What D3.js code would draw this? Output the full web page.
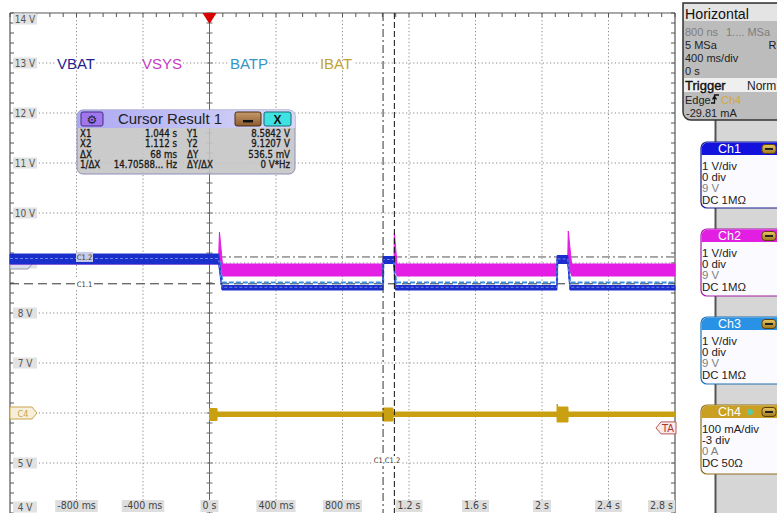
<!DOCTYPE html>
<html><head><meta charset="utf-8">
<script src="https://cdn.jsdelivr.net/npm/d3@7"></script>
<style>body{margin:0;background:#fff;overflow:hidden} svg{display:block}</style>
</head><body>
<svg id="c" width="777" height="513"></svg>
<script>
// ---------- data ----------
const traceNames = ["VBAT", "VSYS", "BATP", "IBAT"];
const timeTicks = [-0.8, -0.4, 0, 0.4, 0.8, 1.2, 1.6, 2.0, 2.4, 2.8];
const timeLabels = ["-800 ms", "-400 ms", "0 s", "400 ms", "800 ms", "1.2 s", "1.6 s", "2 s", "2.4 s", "2.8 s"];
const voltTicks = [14, 13, 12, 11, 10, 9, 8, 7, 5, 4];
const voltLabels = ["14 V", "13 V", "12 V", "11 V", "10 V", "9 V", "8 V", "7 V", "5 V", "4 V"];
// envelopes: [time s, low V, high V]
const vbatEnv = [[-1.2, 8.98, 9.18], [0.055, 8.98, 9.18], [0.075, 8.46, 8.55], [1.044, 8.46, 8.55],
  [1.045, 8.99, 9.13], [1.108, 8.99, 9.13], [1.118, 8.46, 8.55], [2.09, 8.46, 8.55],
  [2.091, 8.99, 9.15], [2.155, 8.99, 9.15], [2.168, 8.46, 8.55], [2.8, 8.46, 8.55]];
const vsysEnv = [[-1.2, 8.98, 9.1], [0.055, 8.98, 9.12], [0.06, 9.0, 9.62], [0.078, 8.74, 8.98],
  [1.044, 8.74, 8.98], [1.045, 9.0, 9.1], [1.11, 9.0, 9.1], [1.112, 9.0, 9.6], [1.128, 8.74, 8.98],
  [2.09, 8.74, 8.98], [2.091, 9.0, 9.1], [2.155, 9.0, 9.1], [2.158, 9.0, 9.64], [2.178, 8.74, 8.98], [2.8, 8.74, 8.98]];
// [time s, V]
const batpPts = [[-1.2, 9.05], [0.06, 9.05], [0.078, 8.61], [1.044, 8.61], [1.046, 9.06], [1.11, 9.06],
  [1.122, 8.61], [2.09, 8.61], [2.092, 9.06], [2.156, 9.06], [2.17, 8.61], [2.8, 8.61]];
// [time s, low mA, high mA]
const ibatEnv = [[0, -15, 9], [0.045, -15, 9], [0.046, -7, 2], [1.043, -7, 2], [1.044, -16, 10],
  [1.103, -16, 10], [1.104, -7, 2], [2.09, -7, 2], [2.091, -18, 18], [2.096, -18, 12], [2.156, -18, 12],
  [2.157, -7, 2], [2.8, -7, 2]];
const cursorX = [1.044, 1.112];
const cursorY = [8.5842, 9.1207];
const triggerLevel = -29.81; // mA
const cursorRows = [["X1", "1.044 s", "Y1", "8.5842 V"], ["X2", "1.112 s", "Y2", "9.1207 V"],
  ["ΔX", "68 ms", "ΔY", "536.5 mV"], ["1/ΔX", "14.70588... Hz", "ΔY/ΔX", "0 V*Hz"]];
const chNames = ["Ch1", "Ch2", "Ch3", "Ch4"];
const chLines = [["1 V/div", "0 div", "9 V", "DC 1MΩ"], ["1 V/div", "0 div", "9 V", "DC 1MΩ"],
  ["1 V/div", "0 div", "9 V", "DC 1MΩ"], ["100 mA/div", "-3 div", "0 A", "DC 50Ω"]];
const horizLines = [["800 ns", "1.... MSa"], ["5 MSa", "R"], ["400 ms/div", ""], ["0 s", ""]];

// ---------- layout ----------
const svg = d3.select("#c");
const X0 = 10, X1 = 675, Y0 = 13, Y1 = 513;
const x = d3.scaleLinear([-1.2, 2.8], [X0, X1]);
const y = d3.scaleLinear([4, 14], [Y1, Y0]);
const yI = d3.scaleLinear([-200, 800], [Y1, Y0]);
const FONT = "'Liberation Sans', Arial, sans-serif";
const NARROW = "'Liberation Sans Narrow', 'DejaVu Sans Condensed', 'Liberation Sans', sans-serif";
const COND = "'DejaVu Sans Condensed', 'Liberation Sans', sans-serif";
const traceColors = {VBAT: "#1a2ecb", VSYS: "#e41ee4", BATP: "#3a8fe0", IBAT: "#c9a010"};
const labelColors = {VBAT: "#232390", VSYS: "#c33cc3", BATP: "#3495c6", IBAT: "#c4a232"};

svg.append("rect").attr("width", 777).attr("height", 513).attr("fill", "#fff");
const plot = svg.append("g");

// grid
const gridT = d3.range(-0.8, 2.81, 0.4).map(v => +v.toFixed(2)).filter(v => v !== 0 && v < 2.79);
plot.selectAll(".gv").data(gridT).join("line")
  .attr("x1", d => x(d)).attr("x2", d => x(d)).attr("y1", Y0).attr("y2", Y1)
  .attr("stroke", "#8a8a8a").attr("stroke-dasharray", "1.2,2.4").attr("stroke-width", 1);
const gridV = d3.range(5, 14);
plot.selectAll(".gh").data(gridV).join("line")
  .attr("x1", X0).attr("x2", X1).attr("y1", d => y(d)).attr("y2", d => y(d))
  .attr("stroke", "#8a8a8a").attr("stroke-dasharray", "1.2,2.4").attr("stroke-width", 1);

// frame
plot.append("line").attr("x1", X0).attr("x2", X1).attr("y1", Y0).attr("y2", Y0).attr("stroke", "#555").attr("stroke-width", 1.2);
plot.append("line").attr("x1", X0).attr("x2", X0).attr("y1", Y0).attr("y2", Y1).attr("stroke", "#555").attr("stroke-width", 1.2);
plot.append("line").attr("x1", X1).attr("x2", X1).attr("y1", Y0).attr("y2", Y1).attr("stroke", "#555").attr("stroke-width", 1.2);
plot.append("line").attr("x1", x(0)).attr("x2", x(0)).attr("y1", Y0).attr("y2", Y1).attr("stroke", "#666").attr("stroke-width", 1);
// minor ticks
const minorT = d3.range(-1.2, 2.8001, 0.08);
plot.selectAll(".mt").data(minorT).join("line")
  .attr("x1", d => x(d)).attr("x2", d => x(d)).attr("y1", Y0).attr("y2", Y0 + 4).attr("stroke", "#555");
const minorV = d3.range(4, 14.001, 0.2);
plot.selectAll(".ml").data(minorV).join("line")
  .attr("x1", X0).attr("x2", X0 + 4).attr("y1", d => y(d)).attr("y2", d => y(d)).attr("stroke", "#555");
plot.selectAll(".mr").data(minorV).join("line")
  .attr("x1", X1 - 4).attr("x2", X1).attr("y1", d => y(d)).attr("y2", d => y(d)).attr("stroke", "#555");
plot.selectAll(".mc").data(minorV).join("line")
  .attr("x1", x(0) - 3).attr("x2", x(0) + 3).attr("y1", d => y(d)).attr("y2", d => y(d)).attr("stroke", "#666");

// y labels
voltTicks.forEach((v, i) => {
  let cy = Math.min(Math.max(y(v), Y0 + 6), Y1 - 6);
  const g = plot.append("g");
  g.append("rect").attr("x", 13).attr("y", cy - 5.5).attr("width", 24).attr("height", 11).attr("fill", "#e2e2e2");
  g.append("text").attr("x", 25).attr("y", cy + 3.5).attr("text-anchor", "middle")
    .attr("font-family", NARROW).attr("font-size", 10).attr("fill", "#555").text(voltLabels[i]);
});
// x labels
timeTicks.forEach((t, i) => {
  const g = plot.append("g");
  const rect = g.append("rect");
  const txt = g.append("text").attr("y", 509).attr("font-family", NARROW).attr("font-size", 10.5).attr("fill", "#444").text(timeLabels[i]);
  const w = txt.node().getComputedTextLength();
  let cx = x(t);
  if (cx + w / 2 > X1 - 2) cx = X1 - 2 - w / 2;
  txt.attr("x", cx).attr("text-anchor", "middle");
  rect.attr("x", cx - w / 2 - 2).attr("y", 500).attr("width", w + 4).attr("height", 12).attr("fill", "#dedede");
});

// channel label marker C1/C2 at 9 V
plot.append("path").attr("d", `M${X0},${y(9) - 6}H${X0 + 18}l5,6l-5,6H${X0}Z`).attr("fill", "#dcdcec").attr("stroke", "#9a9ab0");

// cursor horizontal lines
plot.append("line").attr("x1", X0).attr("x2", X1).attr("y1", y(cursorY[1])).attr("y2", y(cursorY[1]))
  .attr("stroke", "#555").attr("stroke-dasharray", "8,3,2,3").attr("stroke-width", 1);
plot.append("line").attr("x1", X0).attr("x2", X1).attr("y1", y(cursorY[0])).attr("y2", y(cursorY[0]))
  .attr("stroke", "#333").attr("stroke-dasharray", "9,5").attr("stroke-width", 1);

// traces
const area = d3.area().x(d => x(d[0])).y0(d => y(d[1])).y1(d => y(d[2]));
const areaI = d3.area().x(d => x(d[0])).y0(d => yI(d[1])).y1(d => yI(d[2]));
plot.append("path").datum(vsysEnv).attr("d", area).attr("fill", traceColors.VSYS).attr("stroke", traceColors.VSYS).attr("stroke-width", 1);
plot.append("path").datum(batpPts).attr("d", d3.line().x(d => x(d[0])).y(d => y(d[1])))
  .attr("fill", "none").attr("stroke", traceColors.BATP).attr("stroke-width", 2.2).attr("stroke-dasharray", "5,2");
plot.append("path").datum(vbatEnv).attr("d", area).attr("fill", traceColors.VBAT).attr("stroke", traceColors.VBAT).attr("stroke-width", 1);
plot.append("path").datum(vbatEnv).attr("d", d3.line().x(d => x(d[0])).y(d => y((d[1] + d[2]) / 2 + 0.01)))
  .attr("fill", "none").attr("stroke", "#6f86e8").attr("stroke-width", 1).attr("stroke-dasharray", "3,2");
plot.append("path").datum(ibatEnv).attr("d", areaI).attr("fill", traceColors.IBAT).attr("stroke", traceColors.IBAT).attr("stroke-width", 1);

// cursor labels
[["C1.2", cursorY[1]], ["C1.1", cursorY[0]]].forEach(([lab, v]) => {
  const g = plot.append("g");
  g.append("rect").attr("x", 76).attr("y", y(v) - 5).attr("width", 17).attr("height", 10).attr("fill", lab === "C1.2" ? "#c8cce8" : "#fff");
  g.append("text").attr("x", 84.5).attr("y", y(v) + 3).attr("text-anchor", "middle").attr("font-family", COND)
    .attr("font-size", 7.5).attr("fill", "#333").text(lab);
});

// vertical cursors
plot.append("line").attr("x1", x(cursorX[0])).attr("x2", x(cursorX[0])).attr("y1", Y0).attr("y2", Y1)
  .attr("stroke", "#334").attr("stroke-dasharray", "8,3,2,3").attr("stroke-width", 1);
plot.append("line").attr("x1", x(cursorX[1])).attr("x2", x(cursorX[1])).attr("y1", Y0).attr("y2", Y1)
  .attr("stroke", "#111").attr("stroke-dasharray", "6,3").attr("stroke-width", 1);
plot.append("rect").attr("x", 374).attr("y", 456).attr("width", 26).attr("height", 10).attr("fill", "#fff");
plot.append("text").attr("x", 387).attr("y", 463).attr("text-anchor", "middle").attr("font-family", COND)
  .attr("font-size", 7.5).attr("fill", "#333").text("C1,C1.2");

// trace name labels
const nameX = [76, 162, 249, 336];
traceNames.forEach((n, i) => {
  const g = plot.append("g");
  const rect = g.append("rect");
  const tx = g.append("text").attr("x", nameX[i]).attr("y", y(13) + 5.5).attr("text-anchor", "middle")
    .attr("font-family", FONT).attr("font-size", 15).attr("fill", labelColors[n]).text(n);
  const w = tx.node().getComputedTextLength();
  rect.attr("x", nameX[i] - w / 2 - 1).attr("y", y(13) - 2).attr("width", w + 2).attr("height", 4).attr("fill", "#fff");
});

// C4 marker
plot.append("path").attr("d", `M${X0},${yI(0) - 6}H${X0 + 22}l5,6l-5,6H${X0}Z`).attr("fill", "#f6efdc").attr("stroke", "#c9a54a");
plot.append("text").attr("x", X0 + 13).attr("y", yI(0) + 3.5).attr("text-anchor", "middle").attr("font-family", NARROW)
  .attr("font-size", 9).attr("fill", "#c9a54a").text("C4");
// trigger level marker TA
const ty = yI(triggerLevel);
plot.append("path").attr("d", `M${X1 + 1},${ty - 6}H${X1 - 14}l-5,6l5,6H${X1 + 1}Z`).attr("fill", "#fbeaea").attr("stroke", "#b35a5a");
plot.append("text").attr("x", X1 - 7).attr("y", ty + 4).attr("text-anchor", "middle").attr("font-family", NARROW)
  .attr("font-size", 11).attr("fill", "#a33").text("TA");
// trigger position
plot.append("path").attr("d", `M${x(0) - 7},${Y0}H${x(0) + 7}L${x(0)},${Y0 + 11}Z`).attr("fill", "#d80000");

// ---------- cursor result box ----------
const defs = svg.append("defs");
const g1 = defs.append("linearGradient").attr("id", "tb").attr("x1", 0).attr("x2", 1);
g1.append("stop").attr("offset", 0).attr("stop-color", "#a9a6f6");
g1.append("stop").attr("offset", 1).attr("stop-color", "#d9d8fb");
const g2 = defs.append("linearGradient").attr("id", "br").attr("x1", 0).attr("x2", 0).attr("y1", 0).attr("y2", 1);
g2.append("stop").attr("offset", 0).attr("stop-color", "#c79b6c");
g2.append("stop").attr("offset", 1).attr("stop-color", "#8b5a2e");
const g3 = defs.append("linearGradient").attr("id", "mb").attr("x1", 0).attr("x2", 0).attr("y1", 0).attr("y2", 1);
g3.append("stop").attr("offset", 0).attr("stop-color", "#e8c860");
g3.append("stop").attr("offset", 1).attr("stop-color", "#a07820");

const cb = svg.append("g");
cb.append("rect").attr("x", 77).attr("y", 110).attr("width", 218).attr("height", 64).attr("rx", 6)
  .attr("fill", "#c4c4c4").attr("fill-opacity", 0.88).attr("stroke", "#8c8cb8");
cb.append("path").attr("d", "M77,128V116a6,6 0 0 1 6,-6H289a6,6 0 0 1 6,6V128Z").attr("fill", "url(#tb)").attr("fill-opacity", 0.92);
cb.append("rect").attr("x", 81).attr("y", 112).attr("width", 22).attr("height", 14).attr("rx", 2).attr("fill", "#a177ee").attr("stroke", "#4a2a80");
cb.append("text").attr("x", 92).attr("y", 123.5).attr("text-anchor", "middle").attr("font-family", "'DejaVu Sans'").attr("font-size", 12).attr("fill", "#222").text("⚙");
cb.append("text").attr("x", 170).attr("y", 124).attr("text-anchor", "middle").attr("font-family", FONT).attr("font-size", 15).attr("fill", "#222").text("Cursor Result 1");
cb.append("rect").attr("x", 235).attr("y", 112).attr("width", 26).attr("height", 14).attr("rx", 2).attr("fill", "url(#br)").attr("stroke", "#4a3010");
cb.append("rect").attr("x", 243).attr("y", 120).attr("width", 10).attr("height", 2.5).attr("fill", "#111");
cb.append("rect").attr("x", 264).attr("y", 112).attr("width", 27).attr("height", 14).attr("rx", 2).attr("fill", "#3fe2e2").attr("stroke", "#1a6a6a");
cb.append("text").attr("x", 277.5).attr("y", 123.5).attr("text-anchor", "middle").attr("font-family", FONT).attr("font-weight", "bold").attr("font-size", 12).attr("fill", "#111").text("X");
const rowY = [137, 147.3, 157.6, 168];
cursorRows.forEach((r, i) => {
  const t = (xx, s, anchor) => cb.append("text").attr("x", xx).attr("y", rowY[i]).attr("text-anchor", anchor)
    .attr("font-family", COND).attr("font-size", 9.6).attr("fill", "#1a1a1a")
    .attr("stroke", "#1a1a1a").attr("stroke-width", 0.3).text(s);
  t(80, r[0], "start"); t(177, r[1], "end"); t(187, r[2], "start"); t(290, r[3], "end");
});

// ---------- right panel ----------
const rp = svg.append("g");
rp.append("rect").attr("x", 716).attr("y", 118).attr("width", 61).attr("height", 395).attr("fill", "#d6d6d6");
rp.append("line").attr("x1", 715.5).attr("x2", 715.5).attr("y1", 118).attr("y2", 513).attr("stroke", "#555").attr("stroke-width", 2);
rp.append("path").attr("d", "M683,3H778V120H691a8,8 0 0 1 -8,-8Z").attr("fill", "#bcbcbc").attr("stroke", "#333").attr("stroke-width", 1.5);
rp.append("rect").attr("x", 684).attr("y", 4).attr("width", 94).attr("height", 17).attr("fill", "#e4e4e4");
rp.append("rect").attr("x", 684).attr("y", 78).attr("width", 94).attr("height", 14).attr("fill", "#efefef");
rp.append("text").attr("x", 685).attr("y", 19).attr("font-family", FONT).attr("font-size", 14.2).attr("fill", "#111").text("Horizontal");
const hy = [36, 49, 62, 75];
horizLines.forEach((r, i) => {
  const col = i === 0 ? "#7e7e7e" : "#222";
  rp.append("text").attr("x", 685).attr("y", hy[i]).attr("font-family", FONT).attr("font-size", 11).attr("fill", col).text(r[0]);
  if (r[1]) rp.append("text").attr("x", i === 0 ? 726 : 768.5).attr("y", hy[i]).attr("font-family", FONT).attr("font-size", 11).attr("fill", col).text(r[1]);
});
rp.append("text").attr("x", 685).attr("y", 90).attr("font-family", FONT).attr("font-size", 13).attr("fill", "#111")
  .attr("stroke", "#111").attr("stroke-width", 0.4).text("Trigger");
rp.append("text").attr("x", 747).attr("y", 90).attr("font-family", FONT).attr("font-size", 12).attr("fill", "#222").text("Norm");
rp.append("text").attr("x", 685).attr("y", 104).attr("font-family", FONT).attr("font-size", 11).attr("fill", "#222").text("Edge");
rp.append("path").attr("d", "M711,103H714.5V95H719M712.5,99.5L714.5,96L716.5,99.5").attr("fill", "none").attr("stroke", "#111").attr("stroke-width", 1.3);
rp.append("text").attr("x", 721).attr("y", 104).attr("font-family", FONT).attr("font-size", 11).attr("fill", "#d4a93a").text("Ch4");
rp.append("text").attr("x", 686).attr("y", 116.5).attr("font-family", FONT).attr("font-size", 11).attr("fill", "#222").text("-29.81 mA");

const chTop = [142, 229, 317, 405];
const chBottom = [208, 296, 384, 474];
const chHead = ["#1212dc", "#e21ee2", "#2a92e4", "#c9a022"];
const chBorder = ["#1a1a8a", "#a020a0", "#2070b0", "#907020"];
chNames.forEach((n, i) => {
  const g = rp.append("g");
  const t0 = chTop[i], b0 = chBottom[i];
  g.append("path").attr("d", `M701,${t0 + 6}a6,6 0 0 1 6,-6H778V${b0}H707a6,6 0 0 1 -6,-6Z`).attr("fill", "#fbfbff").attr("stroke", chBorder[i]).attr("stroke-width", 1.2);
  g.append("path").attr("d", `M701.6,${t0 + 13}V${t0 + 6}a6,6 0 0 1 6,-5.4H778V${t0 + 13}Z`).attr("fill", chHead[i]);
  g.append("text").attr("x", 729.5).attr("y", t0 + 11).attr("text-anchor", "middle").attr("font-family", FONT).attr("font-size", 12.5).attr("fill", "#fff").text(n);
  if (i === 3) g.append("circle").attr("cx", 750).attr("cy", t0 + 7).attr("r", 3).attr("fill", "#5fc7a0");
  g.append("rect").attr("x", 762).attr("y", t0 + 2.5).attr("width", 14).attr("height", 9).attr("rx", 3).attr("fill", "url(#mb)").attr("stroke", "#5a4010");
  g.append("rect").attr("x", 765).attr("y", t0 + 6).attr("width", 8).attr("height", 2).attr("fill", "#222");
  chLines[i].forEach((s, j) => {
    g.append("text").attr("x", 702).attr("y", t0 + 27.5 + j * 11.4).attr("font-family", FONT).attr("font-size", 11.4)
      .attr("fill", j === 2 ? "#808080" : "#222").text(s);
  });
});
</script>
</body></html>
